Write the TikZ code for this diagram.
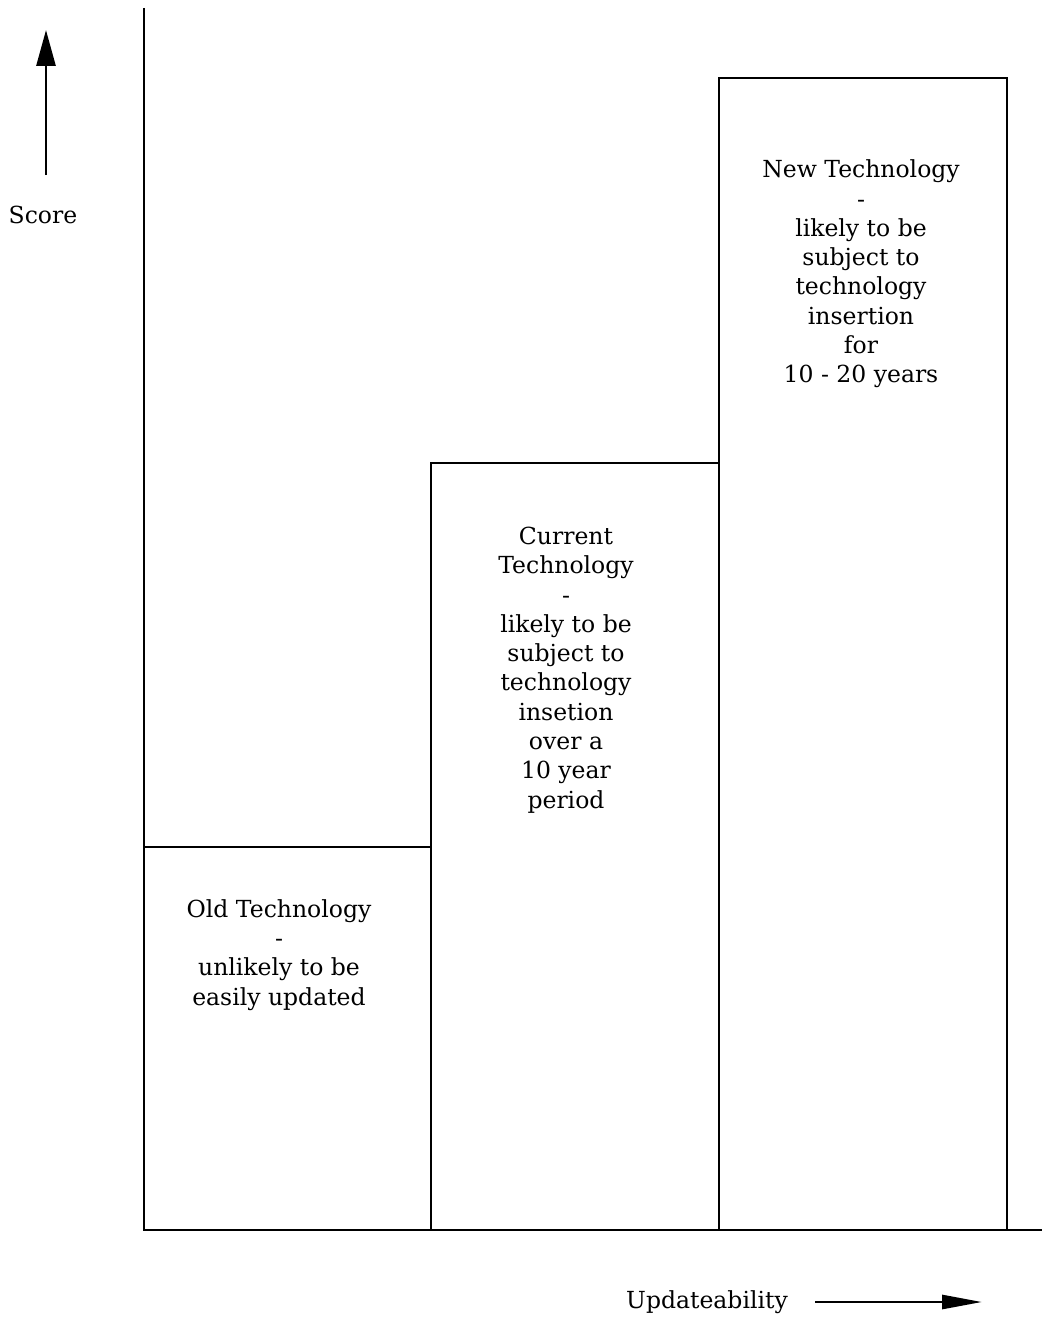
\documentclass[tikz,border=0pt]{standalone}
\usepackage{fontspec}
\setmainfont{DejaVu Serif}
\usetikzlibrary{arrows.meta}
\begin{document}
\begin{tikzpicture}[x=1pt,y=-1pt,
  ln/.style={line width=2.8pt},
  lbl/.style={align=center,font=\fontsize{23.5}{29.3}\selectfont,inner sep=0pt},
  arr/.style={ln,-{Triangle[length=36pt,width=19pt]}}]
\useasboundingbox (0,0) rectangle (1044,1322);
% axes
\coordinate (ytop) at (144,8);
\coordinate (orig) at (144,1230);
\coordinate (xend) at (1042,1230);
\draw[ln] (ytop) -- (orig) -- (xend);
% bars
\draw[ln] (144,847) -- (431,847) -- (431,1230);
\draw[ln] (431,847) -- (431,463) -- (719,463) -- (719,1230);
\draw[ln] (719,463) -- (719,78) -- (1007,78) -- (1007,1230);
% labels
\node[lbl] (old) at (279,955) {Old Technology\\-\\unlikely to be\\easily updated};
\node[lbl] (cur) at (566,670) {Current\\Technology\\-\\likely to be\\subject to\\technology\\insetion\\over a\\10 year\\period};
\node[lbl] (new) at (861,274) {New Technology\\-\\likely to be\\subject to\\technology\\insertion\\for\\10 - 20 years};
% axis labels and arrows
\node[lbl] (score) at (43,215) {Score};
\coordinate (ua) at (46,175);
\coordinate (ub) at (46,30);
\draw[arr] (ua) -- (ub);
\node[lbl] (upd) at (707,1302) {Updateability};
\coordinate (ra) at (815,1302);
\coordinate (rb) at (982,1302);
\draw[arr,-{Triangle[length=40pt,width=14pt]}] (ra) -- (rb);
\end{tikzpicture}
\end{document}
